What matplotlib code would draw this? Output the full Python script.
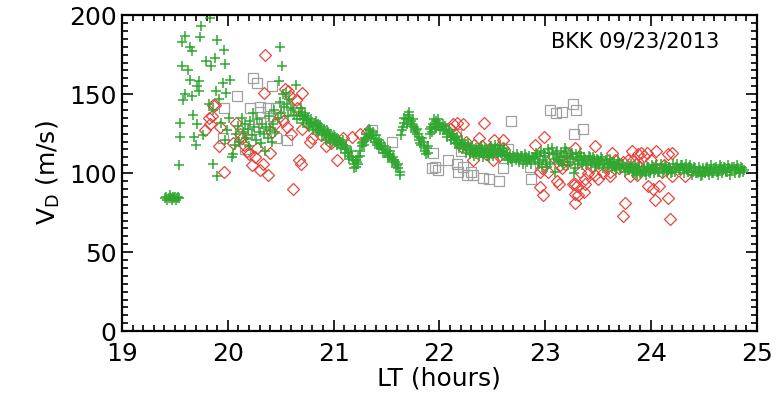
import matplotlib
matplotlib.use('Agg')
import matplotlib.pyplot as plt
from matplotlib.ticker import MultipleLocator

plt.rcParams['font.family'] = ['DejaVu Sans']

# green plus: early scatter (LT, V)
g_scatter = [
    (19.41, 84), (19.42, 85), (19.43, 83), (19.44, 84), (19.45, 86), (19.46, 84),
    (19.47, 83), (19.48, 85), (19.49, 84), (19.50, 85), (19.51, 83), (19.52, 84),
    (19.53, 85), (19.54, 84),
    (19.83, 198), (19.75, 193), (19.60, 187), (19.74, 186), (19.57, 183), (19.90, 184),
    (19.64, 180), (19.66, 177), (19.96, 178), (19.79, 171), (19.88, 173), (19.84, 168),
    (19.97, 169), (19.57, 168), (19.62, 165), (19.64, 159), (19.73, 158), (20.02, 159),
    (19.71, 155), (19.95, 157), (19.89, 152), (19.60, 150), (19.66, 149), (19.73, 152),
    (19.98, 151), (19.58, 146), (19.92, 147), (19.82, 144), (19.67, 137), (19.86, 140),
    (19.55, 132), (19.71, 131), (19.55, 123), (19.68, 123), (19.77, 124), (19.70, 118),
    (19.54, 105), (19.86, 106), (19.90, 98), (20.04, 110), (19.99, 127), (20.01, 135),
    (19.94, 132), (19.97, 121),
    (20.05, 112), (20.07, 118), (20.08, 125), (20.10, 130), (20.11, 120), (20.13, 135),
    (20.14, 126), (20.16, 131), (20.17, 122), (20.19, 128), (20.20, 117), (20.21, 133),
    (20.23, 124), (20.24, 138), (20.25, 129), (20.27, 121), (20.28, 134), (20.30, 126),
    (20.31, 119), (20.32, 131), (20.34, 125), (20.35, 114), (20.36, 129), (20.38, 122),
    (20.39, 136), (20.40, 127), (20.42, 120), (20.43, 131), (20.44, 140), (20.45, 126),
    (20.47, 135), (20.48, 158), (20.49, 145), (20.50, 138), (20.51, 168), (20.49, 180),
    (20.52, 150), (20.53, 142), (20.55, 151), (20.56, 144), (20.57, 136), (20.58, 147),
    (20.60, 140), (20.62, 141), (20.63, 137), (20.64, 156), (20.65, 134), (20.67, 139),
    (20.68, 136), (20.69, 141),
]

# green plus: dense track, first pass
g_lt = [
    20.70, 20.715, 20.73, 20.745, 20.76, 20.775, 20.79, 20.805, 20.82, 20.835, 20.85, 20.865,
    20.88, 20.895, 20.91, 20.925, 20.94, 20.955, 20.97, 20.985, 21.00, 21.015, 21.03, 21.045,
    21.06, 21.075, 21.09, 21.105, 21.12, 21.135, 21.15, 21.165, 21.18, 21.195, 21.21, 21.22,
    21.235, 21.25, 21.265, 21.28, 21.295, 21.31, 21.325, 21.34, 21.355, 21.37,
    21.385, 21.40, 21.415, 21.43, 21.445, 21.46, 21.475, 21.49, 21.505, 21.52, 21.535, 21.55,
    21.565, 21.58, 21.595, 21.61, 21.625,
    21.64, 21.655, 21.67, 21.685, 21.70, 21.715, 21.73, 21.745,
    21.76, 21.775, 21.79, 21.805, 21.82, 21.835, 21.85, 21.865, 21.88, 21.895,
    21.91, 21.925, 21.94, 21.955, 21.97, 21.985, 22.00,
    22.015, 22.03, 22.045, 22.06, 22.075, 22.09, 22.105, 22.12, 22.135, 22.15, 22.165, 22.18,
    22.195, 22.21, 22.225, 22.24, 22.255, 22.27, 22.285, 22.30, 22.315, 22.33, 22.345, 22.36,
    22.375, 22.39, 22.405, 22.42, 22.435, 22.45, 22.465, 22.48, 22.495, 22.51, 22.525, 22.54,
    22.555, 22.57, 22.585, 22.60,
    22.62, 22.64, 22.66, 22.68, 22.70, 22.72, 22.74, 22.76, 22.78, 22.80, 22.82, 22.84,
    22.86, 22.88, 22.90, 22.92, 22.94, 22.96, 22.98, 23.00, 23.02, 23.04, 23.06, 23.08,
    23.10, 23.12, 23.14, 23.16, 23.18, 23.20, 23.22, 23.24, 23.26, 23.28, 23.30, 23.32,
    23.34, 23.36, 23.38, 23.40, 23.42, 23.44, 23.46, 23.48, 23.50, 23.52, 23.54, 23.56,
    23.58, 23.60, 23.62, 23.64, 23.66, 23.68, 23.70, 23.72, 23.74, 23.76, 23.78, 23.80,
    23.82, 23.84, 23.86, 23.88, 23.90, 23.92, 23.94, 23.96, 23.98, 24.00, 24.02, 24.04,
    24.06, 24.08, 24.10, 24.12, 24.14, 24.16, 24.18, 24.20, 24.22, 24.24, 24.26, 24.28,
    24.30, 24.32, 24.34, 24.36, 24.38, 24.40, 24.42, 24.44, 24.46, 24.48, 24.50, 24.52,
    24.54, 24.56, 24.58, 24.60, 24.62, 24.64, 24.66, 24.68, 24.70, 24.72, 24.74, 24.76,
    24.78, 24.80, 24.82, 24.84, 24.86, 24.88,
]
g_v = [
    137, 134, 138, 133, 135, 131, 134, 130, 132, 128, 131, 127,
    129, 126, 128, 124, 127, 123, 125, 122, 124, 120, 122, 119,
    120, 118, 121, 116, 117, 113, 111, 114, 108, 106, 104, 107,
    110, 114, 117, 120, 122, 125, 123, 127, 124, 126,
    122, 124, 119, 121, 117, 115, 117, 113, 114, 111, 112, 109,
    110, 107, 105, 103, 101,
    124, 129, 132, 134, 137, 135, 133, 131,
    129, 127, 125, 121, 119, 122, 117, 114, 116, 113,
    125, 129, 131, 128, 133, 130, 132,
    129, 131, 127, 128, 125, 126, 123, 124, 121, 122, 119, 121,
    118, 119, 116, 118, 115, 117, 114, 116, 113, 115, 112, 114,
    116, 113, 115, 112, 114, 111, 113, 115, 112, 114, 116, 113,
    115, 117, 113, 114,
    111, 112, 110, 109, 111, 108, 110, 109, 111, 108, 110, 109,
    108, 110, 109, 112, 106, 114, 108, 111, 104, 113, 116, 109,
    112, 108, 110, 107, 111, 114, 105, 112, 109, 103, 110, 108,
    111, 107, 109, 108, 110, 107, 109, 106, 108, 107, 109, 106,
    108, 105, 107, 106, 104, 106, 105, 103, 105, 104, 102, 104,
    103, 101, 103, 102, 100, 102, 101, 103, 101, 102, 104, 102,
    103, 101, 103, 102, 104, 102, 103, 101, 103, 104, 102, 105,
    103, 104, 102, 104, 103, 101, 103, 100, 102, 99, 101, 103,
    101, 102, 100, 103, 101, 102, 104, 102, 103, 101, 103, 102,
    104, 102, 103, 101, 103, 102,
]

# green plus: dense track, second pass (in between the first)
g2_lt = [
    20.71, 20.73, 20.75, 20.77, 20.79, 20.81, 20.83, 20.85, 20.87, 20.89,
    20.91, 20.93, 20.95, 20.97, 20.99, 21.01, 21.03, 21.05, 21.07, 21.09,
    21.11, 21.13, 21.15, 21.17, 21.19, 21.21, 21.23, 21.25, 21.27, 21.29,
    21.31, 21.33, 21.35, 21.37, 21.39, 21.41, 21.43, 21.45, 21.47, 21.49,
    21.51, 21.53, 21.55, 21.57, 21.59, 21.61, 21.63, 21.65, 21.67, 21.69,
    21.71, 21.73, 21.75, 21.77, 21.79, 21.81, 21.83, 21.85, 21.87, 21.89,
    21.91, 21.93, 21.95, 21.97, 21.99, 22.01, 22.03, 22.05, 22.07, 22.09,
    22.11, 22.13, 22.15, 22.17, 22.19, 22.21, 22.23, 22.25, 22.27, 22.29,
    22.31, 22.33, 22.35, 22.37, 22.39, 22.41, 22.43, 22.45, 22.47, 22.49,
    22.51, 22.53, 22.55, 22.57, 22.59, 22.61,
    22.63, 22.65, 22.67, 22.69, 22.71, 22.73, 22.75, 22.77, 22.79, 22.81,
    22.83, 22.85, 22.87, 22.89, 22.91, 22.93, 22.95, 22.97, 22.99, 23.01,
    23.03, 23.05, 23.07, 23.09, 23.11, 23.13, 23.15, 23.17, 23.19, 23.21,
    23.23, 23.25, 23.27, 23.29, 23.31, 23.33, 23.35, 23.37, 23.39, 23.41,
    23.43, 23.45, 23.47, 23.49, 23.51, 23.53, 23.55, 23.57, 23.59, 23.61,
    23.63, 23.65, 23.67, 23.69, 23.71, 23.73, 23.75, 23.77, 23.79, 23.81,
    23.83, 23.85, 23.87, 23.89, 23.91, 23.93, 23.95, 23.97, 23.99, 24.01,
    24.03, 24.05, 24.07, 24.09, 24.11, 24.13, 24.15, 24.17, 24.19, 24.21,
    24.23, 24.25, 24.27, 24.29, 24.31, 24.33, 24.35, 24.37, 24.39, 24.41,
    24.43, 24.45, 24.47, 24.49, 24.51, 24.53, 24.55, 24.57, 24.59, 24.61,
    24.63, 24.65, 24.67, 24.69, 24.71, 24.73, 24.75, 24.77, 24.79, 24.81,
    24.83, 24.85, 24.87,
]
g2_v = [
    132, 136, 134, 129, 132, 127, 133, 126, 130, 124,
    125, 121, 126, 119, 121, 123, 118, 121, 116, 118,
    113, 115, 109, 110, 103, 108, 106, 111, 119, 118,
    121, 128, 122, 124, 120, 118, 116, 119, 113, 115,
    110, 114, 107, 108, 104, 106, 99, 127, 135, 131,
    139, 130, 134, 126, 128, 123, 118, 120, 112, 117,
    128, 126, 134, 129, 134, 127, 127, 130, 123, 127,
    121, 125, 119, 123, 116, 121, 118, 113, 119, 112,
    117, 111, 116, 111, 117, 110, 116, 113, 110, 117,
    111, 118, 112, 114, 111, 116,
    113, 108, 112, 107, 110, 112, 107, 111, 106, 112,
    107, 111, 106, 110, 113, 107, 111, 104, 113, 107,
    115, 106, 112, 101, 114, 107, 113, 105, 116, 110,
    107, 113, 100, 112, 106, 113, 105, 110, 106, 111,
    105, 110, 104, 109, 105, 110, 103, 108, 104, 109,
    103, 107, 102, 108, 103, 106, 101, 105, 102, 106,
    100, 105, 99, 104, 100, 104, 99, 104, 100, 105,
    100, 105, 101, 106, 100, 105, 101, 104, 100, 106,
    101, 106, 102, 105, 100, 106, 101, 105, 99, 104,
    100, 104, 98, 103, 100, 104, 99, 105, 100, 104,
    99, 105, 100, 104, 101, 105, 99, 104, 100, 105,
    100, 104, 101,
]

# red diamonds (LT, V)
red = [
    (19.82, 135), (19.85, 136), (19.83, 131), (19.93, 129), (19.78, 127), (20.08, 132),
    (19.92, 117), (20.05, 119), (19.96, 101), (20.12, 125), (20.18, 114), (19.86, 143),
    (19.88, 143), (20.23, 105), (20.30, 102), (20.38, 99), (20.62, 90), (20.35, 175),
    (20.34, 151), (20.57, 152), (20.54, 153), (20.59, 149), (20.64, 146), (20.65, 141),
    (20.70, 151), (20.49, 136), (20.52, 133), (20.56, 129), (20.70, 128), (20.78, 120),
    (20.80, 122), (20.93, 117), (21.03, 108), (20.67, 108), (20.69, 106), (20.13, 122),
    (20.15, 118), (20.20, 112), (20.26, 110), (20.28, 116), (20.33, 106), (20.42, 126),
    (20.45, 131), (20.40, 113), (20.60, 125), (20.75, 132), (20.88, 124), (20.98, 119),
    (21.06, 119), (21.09, 122), (21.17, 123), (21.25, 125), (21.32, 126),
    (22.10, 128), (22.13, 131), (22.17, 132), (22.22, 131), (22.42, 132), (22.15, 125),
    (22.25, 120), (22.28, 115), (22.33, 118), (22.37, 122), (22.40, 117), (22.47, 115),
    (22.52, 121), (22.60, 116), (22.60, 121), (22.32, 108), (22.51, 108), (22.20, 117),
    (22.44, 112), (22.56, 111),
    (22.90, 118), (22.99, 123), (22.95, 101), (22.95, 91), (22.98, 86), (23.11, 95),
    (23.13, 93), (23.20, 113), (23.23, 108), (23.19, 106), (23.14, 105), (23.28, 93),
    (23.28, 87), (23.28, 81), (23.31, 86), (23.30, 92), (23.38, 93), (23.28, 116),
    (23.26, 93), (23.37, 88), (23.33, 101), (23.40, 100), (23.47, 99), (23.55, 100),
    (23.61, 101), (23.38, 96), (23.50, 96), (23.61, 98), (23.47, 117), (23.63, 113),
    (23.66, 108), (23.74, 107), (23.78, 108), (23.83, 108), (23.82, 114), (23.88, 112),
    (23.91, 113), (23.93, 111), (23.96, 113), (24.05, 114), (24.16, 112), (24.00, 108),
    (23.80, 98), (23.87, 99), (23.75, 81), (23.74, 73), (24.04, 83), (24.16, 84),
    (24.18, 71), (23.97, 92), (24.02, 90), (24.08, 92), (24.32, 98), (24.20, 98),
    (24.20, 113), (22.97, 103), (23.03, 101), (23.70, 103), (23.90, 104), (24.10, 101),
    (23.58, 104), (23.44, 104), (23.86, 106), (24.12, 105), (23.07, 110), (23.16, 103),
]

# gray squares (LT, V)
gray = [
    (20.09, 149), (19.96, 141), (19.95, 122), (20.24, 160), (20.28, 157), (20.42, 155),
    (20.30, 142), (20.38, 141), (20.21, 141), (20.46, 141), (20.24, 128), (20.56, 121),
    (20.46, 122), (20.16, 115), (20.30, 139), (20.34, 132), (20.20, 125), (20.40, 136),
    (21.36, 127), (21.55, 120), (21.94, 113), (21.93, 103), (21.96, 104), (21.99, 102),
    (22.08, 108), (22.18, 101), (22.16, 125), (22.68, 133), (23.05, 140), (23.10, 138),
    (23.16, 139), (23.26, 144), (23.29, 140), (23.27, 125), (23.36, 128), (22.17, 106),
    (22.22, 104), (22.26, 99), (22.30, 101), (22.32, 99), (22.20, 114), (22.41, 97),
    (22.47, 96), (22.56, 95), (22.87, 96), (22.86, 104), (22.65, 115), (22.60, 103),
]

fig = plt.figure(figsize=(7.77, 3.98), dpi=100)
ax = fig.add_axes([0.157, 0.168, 0.817, 0.794])

gx = [p[0] for p in g_scatter] + g_lt + g2_lt
gy = [p[1] for p in g_scatter] + g_v + g2_v
ax.plot([p[0] for p in gray], [p[1] for p in gray], 's', ms=6.5, mfc='none',
        mec='#a0a0a0', mew=0.9, ls='none')
ax.plot([p[0] for p in red], [p[1] for p in red], 'D', ms=6.3, mfc='none',
        mec='#e5463f', mew=0.9, ls='none')
ax.plot(gx, gy, '+', ms=6.5, color='#30a830', mew=1.1, ls='none')

ax.set_xlim(19, 25)
ax.set_ylim(0, 200)
ax.xaxis.set_major_locator(MultipleLocator(1))
ax.xaxis.set_minor_locator(MultipleLocator(0.1))
ax.yaxis.set_major_locator(MultipleLocator(50))
ax.yaxis.set_minor_locator(MultipleLocator(5))
ax.tick_params(which='both', direction='in', top=True, right=True, labelsize=18, width=1.2)
ax.tick_params(which='major', length=8)
ax.tick_params(which='minor', length=4)
ax.tick_params(axis='x', pad=8)
ax.tick_params(axis='y', pad=4)
for s in ax.spines.values():
    s.set_linewidth(1.6)

ax.set_xlabel('LT (hours)', fontsize=18, labelpad=0)
ax.set_ylabel(r'V$_\mathrm{D}$ (m/s)', fontsize=18, labelpad=5)
ax.text(0.809, 0.915, 'BKK 09/23/2013', transform=ax.transAxes, fontsize=15,
        ha='center', va='center')

fig.savefig('out.png', dpi=100)
